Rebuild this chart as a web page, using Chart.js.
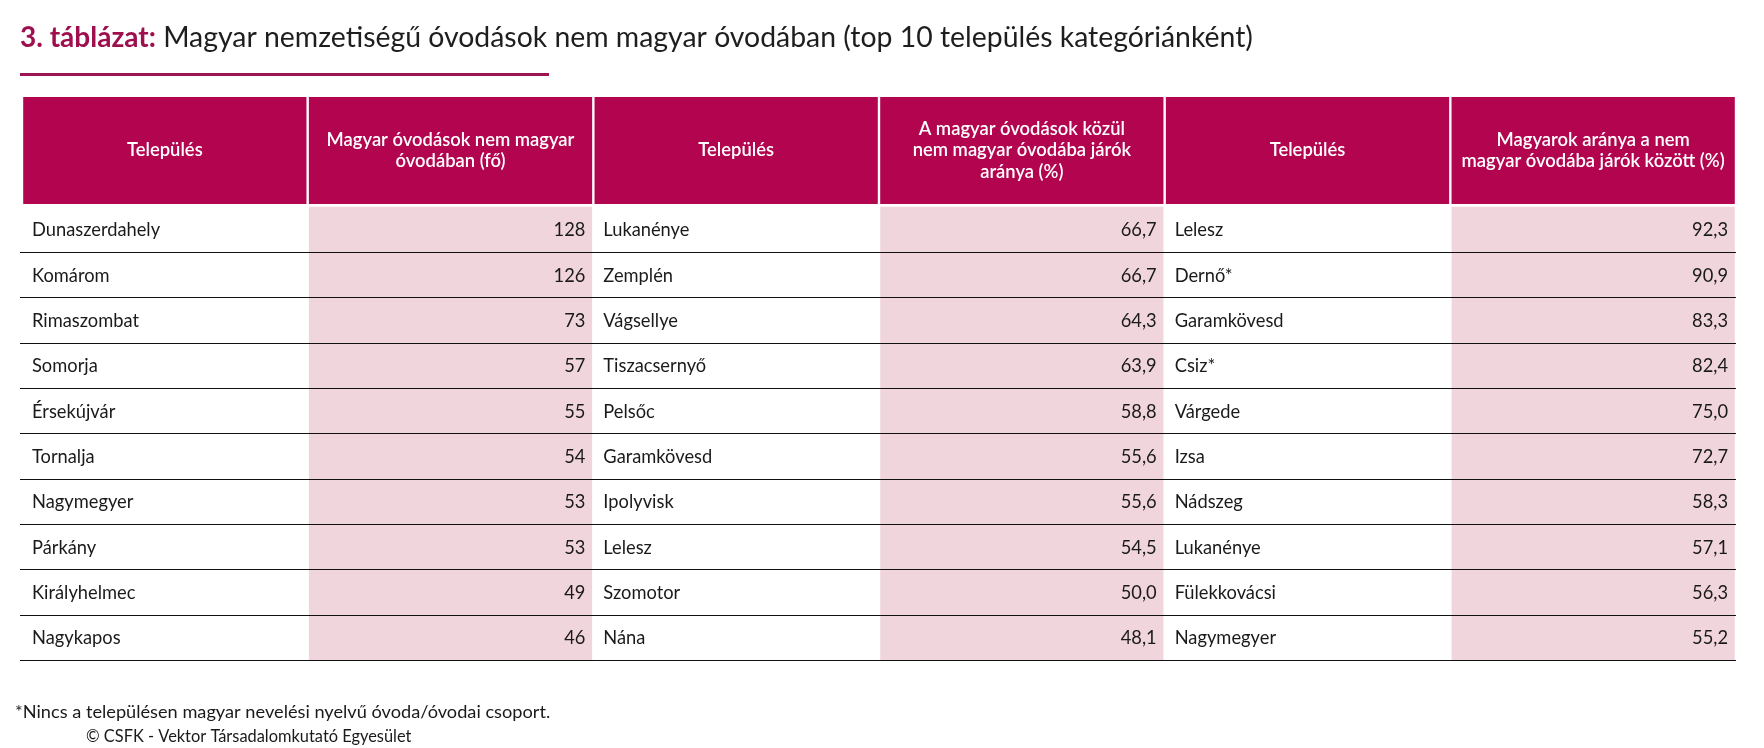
<!DOCTYPE html>
<html>
<head>
<meta charset="utf-8">
<script src="https://cdn.jsdelivr.net/npm/chart.js@4"></script>
<style>
  html, body { margin: 0; padding: 0; background: #fff; }
  #wrap { width: 1764px; height: 748px; position: relative; }
</style>
</head>
<body>
<div id="wrap"><canvas id="tableChart"></canvas></div>
<script>
// table contents
const titleLead = '3. táblázat:';
const titleRest = ' Magyar nemzetiségű óvodások nem magyar óvodában (top 10 település kategóriánként)';
const footNote = '*Nincs a településen magyar nevelési nyelvű óvoda/óvodai csoport.';
const sourceNote = '© CSFK - Vektor Társadalomkutató Egyesület';

const headers = [
  ['Település'],
  ['Magyar óvodások nem magyar', 'óvodában (fő)'],
  ['Település'],
  ['A magyar óvodások közül', 'nem magyar óvodába járók', 'aránya (%)'],
  ['Település'],
  ['Magyarok aránya a nem', 'magyar óvodába járók között (%)']
];

const townsByCount = ['Dunaszerdahely', 'Komárom', 'Rimaszombat', 'Somorja', 'Érsekújvár', 'Tornalja', 'Nagymegyer', 'Párkány', 'Királyhelmec', 'Nagykapos'];
const childCounts = [128, 126, 73, 57, 55, 54, 53, 53, 49, 46];

const townsByShare = ['Lukanénye', 'Zemplén', 'Vágsellye', 'Tiszacsernyő', 'Pelsőc', 'Garamkövesd', 'Ipolyvisk', 'Lelesz', 'Szomotor', 'Nána'];
const sharePct = [66.7, 66.7, 64.3, 63.9, 58.8, 55.6, 55.6, 54.5, 50.0, 48.1];

const townsByRatio = ['Lelesz', 'Dernő*', 'Garamkövesd', 'Csiz*', 'Várgede', 'Izsa', 'Nádszeg', 'Lukanénye', 'Fülekkovácsi', 'Nagymegyer'];
const ratioPct = [92.3, 90.9, 83.3, 82.4, 75.0, 72.7, 58.3, 57.1, 56.3, 55.2];

const fmt = v => v.toFixed(1).replace('.', ',');
const columns = [
  { text: townsByCount, num: false },
  { text: childCounts.map(String), num: true },
  { text: townsByShare, num: false },
  { text: sharePct.map(fmt), num: true },
  { text: townsByRatio, num: false },
  { text: ratioPct.map(fmt), num: true }
];

const HEAD_TOP = -2.42, HEAD_BOTTOM = -0.06, ROWS = 10;
const FONT = 'Lato, "Open Sans", sans-serif';
const HEAD_BG = '#b3044f';
const PINK = '#f0d6dc';
const INK = '#1a1a1a';

const tablePlugin = {
  id: 'tableCells',
  beforeDatasetsDraw(chart) {
    const { ctx, scales: { x, y } } = chart;
    ctx.save();

    // title + rule + notes sit outside the grid
    ctx.textBaseline = 'alphabetic';
    ctx.textAlign = 'left';
    ctx.font = 'bold 28px ' + FONT;
    ctx.fillStyle = '#9e0f4e';
    ctx.fillText(titleLead, 20, 47);
    const w = ctx.measureText(titleLead).width;
    ctx.font = '28.4px ' + FONT;
    ctx.fillStyle = '#1e1e1e';
    ctx.fillText(titleRest, 20 + w, 47);
    ctx.fillStyle = '#9c1552';
    ctx.fillRect(20, 73, 529, 3);

    ctx.fillStyle = INK;
    ctx.font = '18.2px ' + FONT;
    ctx.fillText(footNote, 15, 718);
    ctx.font = '16.4px ' + FONT;
    ctx.fillText(sourceNote, 86, 742);

    // header cells
    const top = y.getPixelForValue(HEAD_TOP), bot = y.getPixelForValue(HEAD_BOTTOM);
    for (let c = 0; c < headers.length; c++) {
      const l = x.getPixelForValue(c) + 1.2, r = x.getPixelForValue(c + 1) - 1.2;
      ctx.fillStyle = HEAD_BG;
      ctx.fillRect(l, top, r - l, bot - top);
      ctx.fillStyle = '#fff';
      ctx.font = '600 18.4px ' + FONT;
      ctx.textAlign = 'center';
      ctx.textBaseline = 'middle';
      const lines = headers[c], lh = 21.5;
      const cy = (top + bot) / 2 - (lines.length - 1) * lh / 2;
      lines.forEach((t, i) => ctx.fillText(t, (l + r) / 2, cy + i * lh));
    }

    // pink value columns
    for (let c = 1; c < 6; c += 2) {
      const l = x.getPixelForValue(c) + 1.2, r = x.getPixelForValue(c + 1) - 1.2;
      ctx.fillStyle = PINK;
      ctx.fillRect(l, y.getPixelForValue(0), r - l, y.getPixelForValue(ROWS) - y.getPixelForValue(0));
    }

    // row rules
    ctx.strokeStyle = '#111';
    ctx.lineWidth = 1;
    for (let r = 1; r <= ROWS; r++) {
      const py = Math.round(y.getPixelForValue(r)) + 0.5;
      ctx.beginPath();
      ctx.moveTo(x.getPixelForValue(-0.007), py);
      ctx.lineTo(x.getPixelForValue(6), py);
      ctx.stroke();
    }

    // cell text
    ctx.font = '18.3px ' + FONT;
    ctx.fillStyle = INK;
    ctx.textBaseline = 'middle';
    columns.forEach((col, c) => {
      col.text.forEach((t, r) => {
        const py = y.getPixelForValue(r + 0.5) + 1;
        if (col.num) {
          ctx.textAlign = 'right';
          ctx.fillText(t, x.getPixelForValue(c + 1) - 8, py);
        } else {
          ctx.textAlign = 'left';
          ctx.fillText(t, x.getPixelForValue(c) + 10, py);
        }
      });
    });
    ctx.restore();
  }
};

new Chart(document.getElementById('tableChart'), {
  type: 'scatter',
  data: { datasets: [] },
  options: {
    responsive: true,
    maintainAspectRatio: false,
    animation: false,
    layout: { padding: { left: 22, right: 28, top: 97, bottom: 88 } },
    plugins: { legend: { display: false }, tooltip: { enabled: false } },
    scales: {
      x: { type: 'linear', min: 0, max: 6, display: false },
      y: { type: 'linear', min: HEAD_TOP, max: ROWS, reverse: true, display: false }
    }
  },
  plugins: [tablePlugin]
});
</script>
</body>
</html>
